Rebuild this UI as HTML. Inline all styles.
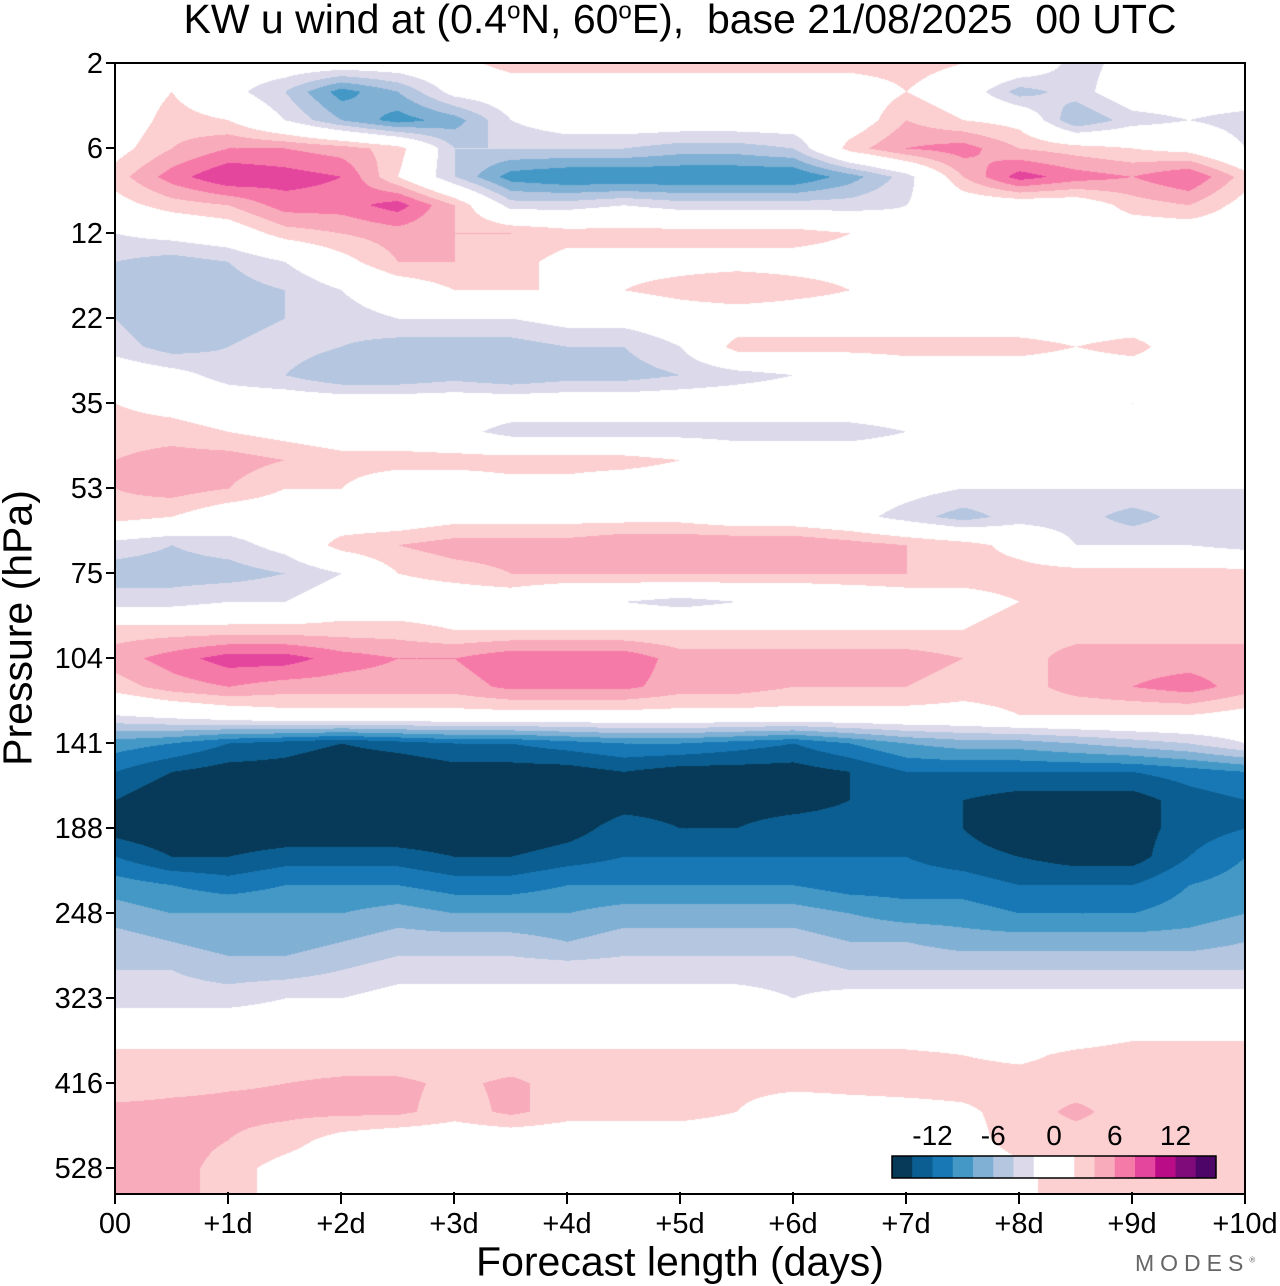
<!DOCTYPE html>
<html><head><meta charset="utf-8"><style>
body{margin:0;background:#fff;width:1280px;height:1286px;overflow:hidden;font-family:"Liberation Sans",Arial,sans-serif;}
#root{position:relative;width:1280px;height:1286px;}
.t{position:absolute;white-space:nowrap;color:#000;}
</style></head><body>
<div id="root">
<div class="t" style="left:0;width:1360px;text-align:center;top:-4px;font-size:41px;">KW u wind at (0.4<sup style="font-size:24px">o</sup>N, 60<sup style="font-size:24px">o</sup>E),&nbsp; base 21/08/2025&nbsp; 00 UTC</div>
<canvas id="cv" width="1130" height="1131" style="position:absolute;left:115px;top:63px;"></canvas>
<svg id="ax" width="1280" height="1286" style="position:absolute;left:0;top:0;"></svg>
<div class="t" style="left:18px;top:628px;font-size:41px;transform:translate(-50%,-50%) rotate(-90deg);">Pressure (hPa)</div>
<div class="t" style="left:680px;top:1262px;font-size:41px;transform:translate(-50%,-50%);">Forecast length (days)</div>
<div class="t" style="left:1135px;top:1250px;font-size:23px;color:#666;letter-spacing:6px;">MODES<sup style="font-size:8px">®</sup></div>
</div>
<script>
const levels=[-16,-14,-12,-10,-8,-6,-4,-2,0,2,4,6,8,10,12,14];
const colors=["#073a58","#0b5e91","#1778b5","#4498c6","#80b0d4","#b5c6e0","#dcdaea","#ffffff","#ffffff","#fcd0d0","#f8abbb","#f67aa8","#e4469e","#b90c86","#7e0b79","#4d0568"];
const xTicks=["00","+1d","+2d","+3d","+4d","+5d","+6d","+7d","+8d","+9d","+10d"];
const yTicks=["2","6","12","22","35","53","75","104","141","188","248","323","416","528"];
const days=[0,0.5,1,1.5,2,2.5,3,3.5,4,4.5,5,5.5,6,6.5,7,7.5,8,8.5,9,9.5,10];
const rowLevel=[0,1,2,3,4,5,6,7,8,9,10,11,12,13,14,15,16,17,18,19,20,21,22,23,24,25,26,27,28,29,30,31,32,33,34,35,36,37,38,39,40];
const u=[
[0,2,0,0,0,0,1,3,3,3,3,3,3,3,3,2,1,-3,-1,-2,-2],
[0,2,-1,-4,-9,-6,-1,0,0,0,0,0,0,0,2,0,-5,-3,0,0,0],
[0,3,2,-2,-6,-9,-7,-2,0,0,0,0,0,0,4,2,1,-6,-3,-2,-3],
[1,4,6,6,5,3,-4,-4,-4,-4,-5,-5,-4,3,6,7,4,3,2,1,-2],
[3,7,10,9,8,2,-4,-9,-10,-10,-10,-10,-10,-7,-3,4,9,7,6,8,3],
[1,3,4,7,7,9,4,-3,-3,-2,-3,-3,-3,-3,-2,0,0,0,3,4,1],
[-2,-1,0,3,4,5,4,4,3,3,3,3,3,2,-1,0,0,0,0,0,0],
[-4,-5,-4,-2,1,4,4,3,1,1,1,1,1,1,1,1,0,1,0,1,0],
[-5,-6,-5,-4,-2,0,2,2,2,2,3,4,3,2,2,2,2,2,1,0,0],
[-4,-6,-5,-4,-3,-2,-2,-2,-1,-1,0,0,0,0,0,0,0,0,0,0,0],
[-3,-5,-4,-3,-4,-5,-5,-5,-4,-4,-2,3,3,3,3,3,3,2,3,0,0],
[0,-1,-3,-4,-6,-6,-5,-6,-5,-5,-4,-3,-2,-2,0,0,0,0,0,0,0],
[2,1,0,0,0,0,0,0,0,0,0,0,0,0,0,0,0,0,2,0,2],
[3,3,2,1,0,0,-1,-3,-3,-3,-3,-3,-3,-3,-2,-2,0,-1,0,0,0],
[4,5,5,4,3,3,3,3,3,3,2,0,0,0,0,0,0,0,0,0,0],
[4,5,4,2,2,0,0,1,1,0,0,0,0,0,-1,-2,-2,-2,-2,-2,-2],
[3,2,0,0,0,0,1,1,1,1,1,0,0,-1,-3,-5,-3,-3,-5,-3,-3],
[-3,-4,-3,-1,3,4,5,5,5,6,6,6,6,5,4,3,1,-2,-2,-2,-3],
[-5,-5,-5,-4,-2,2,3,4,4,4,4,4,4,4,4,3,3,3,3,3,3],
[-3,-3,-2,-2,0,0,0,0,-2,-2,-3,-2,-2,-1,0,1,2,3,3,3,3],
[3,3,3,3,3,3,2,2,2,2,2,2,2,2,2,2,3,3,3,3,3],
[5,7,9,9,7,6,6,7.5,7.5,7.5,5,5,5,5,5,4,3,5,5,5,5],
[3,5,6,5,5,5,5,6.5,6.5,6.5,5,5,4,4,4,3,3,5,6,7,5],
[-2,-1,0,1,1,1,1,1,1,1,1,1,1,1,1,1,2,2,2,2,1],
[-9,-10,-12,-13,-14,-13,-12,-12,-11,-10,-10,-11,-12,-10,-8,-7,-7,-6,-5,-4,-2],
[-12,-14,-15,-15,-16,-16,-15,-15,-15,-14,-15,-15,-15,-14,-12,-12,-12,-12,-12,-11,-10],
[-14,-16,-16,-16,-16,-16,-16,-16,-16,-15,-15,-15,-15,-14,-13,-14,-15,-15,-15,-13,-12],
[-15,-16,-16,-16,-16,-16,-16,-16,-15,-13,-14,-14,-13,-13,-13,-14,-16,-16,-15,-13,-12],
[-12,-14,-14,-13,-13,-13,-14,-14,-13,-12,-12,-12,-12,-12,-12,-13,-14,-15,-15,-12,-10],
[-9,-10,-11,-10,-10,-10,-11,-11,-10,-10,-10,-10,-10,-11,-11,-11,-12,-12,-12,-10,-9],
[-7,-8,-8,-8,-8,-7,-8,-8,-8,-7,-7,-7,-7,-8,-9,-9,-10,-10,-10,-9,-8],
[-5,-6,-7,-7,-6,-5,-5,-5,-6,-5,-5,-5,-5,-6,-6,-7,-7,-7,-7,-7,-6],
[-4,-4,-5,-5,-4,-3,-3,-3,-3,-3,-3,-3,-3,-4,-4,-4,-4,-4,-4,-4,-4],
[-3,-3,-3,-2,-2,-1,-1,-1,-1,-1,-1,-1,-2,-1,-1,-1,-1,-1,-1,-1,-1],
[0,0,0,0,0,0,0,0,0,0,0,0,0,0,0,0,0,0,1,1,1],
[2.5,2.5,2.5,2.5,2.5,2.5,2.5,2.5,2.5,2.5,2.5,2.5,2.5,2.5,2.5,2,1.5,2.5,3,3,3],
[3,3.5,3.8,4,4.5,4.5,3.5,4.5,3,3,3,3,3,3,3,3,3,3,3,3,3],
[4.5,4.5,4.5,4.5,4.5,4.5,3,4.5,3,3,3,2,-0.5,0.5,1,1.5,3,4.5,3,3,3],
[5,5,4,3,1,0,0,0,0,0,0,0,0,0,0,1,3,3,3,3,3],
[5,5,3,1,0,0,0,0,0,0,0,0,0,0,0,0,1.5,3,3,3,3],
[5,5,3,1,0,0,0,0,0,0,0,0,0,0,0,0,1.5,3,3,3,3]
];
const X0=115,X1=1245,Y0=63,RS=85/3;
function xScale(d){return X0+(X1-X0)*d/10;}
function yScale(r){return Y0+r*RS;}
function hex(c){return [parseInt(c.substr(1,2),16),parseInt(c.substr(3,2),16),parseInt(c.substr(5,2),16)];}
const rgb=colors.map(hex);
function colorIdx(v){let k=0;for(let i=0;i<levels.length;i++){if(v>=levels[i])k=i;}return k;}
(function(){
 const cv=document.getElementById('cv'),ctx=cv.getContext('2d');
 const W=cv.width,H=cv.height,img=ctx.createImageData(W,H);
 const nr=u.length,nc=days.length;
 for(let py=0;py<H;py++){
  const yy=py+Y0;
  let fr=0;
  for(let r=0;r<nr-1;r++){if(yy>=yScale(rowLevel[r]))fr=r;}
  const ya=yScale(rowLevel[fr]),yb=yScale(rowLevel[fr+1]);
  let ty=Math.min(1,Math.max(0,(yy-ya)/(yb-ya)));
  for(let px=0;px<W;px++){
   const xx=px+X0;
   let fc=0;
   for(let c=0;c<nc-1;c++){if(xx>=xScale(days[c]))fc=c;}
   const xa=xScale(days[fc]),xb=xScale(days[fc+1]);
   const tx=Math.min(1,Math.max(0,(xx-xa)/(xb-xa)));
   const v=(u[fr][fc]*(1-tx)+u[fr][fc+1]*tx)*(1-ty)+(u[fr+1][fc]*(1-tx)+u[fr+1][fc+1]*tx)*ty;
   const c=rgb[colorIdx(v)],o=(py*W+px)*4;
   img.data[o]=c[0];img.data[o+1]=c[1];img.data[o+2]=c[2];img.data[o+3]=255;
  }
 }
 ctx.putImageData(img,0,0);
 const ns="http://www.w3.org/2000/svg",svg=document.getElementById('ax');
 function mk(tag,at,par){const e=document.createElementNS(ns,tag);for(const k in at)e.setAttribute(k,at[k]);(par||svg).appendChild(e);return e;}
 const fr2=mk('rect',{x:X0,y:Y0,width:X1-X0,height:1194-Y0,fill:'none',stroke:'#000','stroke-width':2});
 
 
 yTicks.forEach((lab,i)=>{
  const y=yScale(i*3);
  const tk=mk('line',{x1:106,x2:116,y1:y,y2:y,stroke:'#000','stroke-width':2});
  
  
  const t=mk('text',{x:103,y:y+10,'text-anchor':'end','font-size':29,'font-family':'Liberation Sans, sans-serif'});
  t.textContent=lab;
  
  
 });
 xTicks.forEach((lab,i)=>{
  const x=xScale(i);
  const tk=mk('line',{x1:x,x2:x,y1:1192,y2:1204,stroke:'#000','stroke-width':2});
  
  
  const t=mk('text',{x:x,y:1233,'text-anchor':'middle','font-size':29,'font-family':'Liberation Sans, sans-serif'});
  t.textContent=lab;
  
  
 });
 const g=mk('g',{});
 
 
 const bw=324/16;
 colors.forEach((c,i)=>{
  const r=mk('rect',{x:892+i*bw,y:1156,width:bw+0.5,height:22,fill:c},g);
  
  
 });
 mk('rect',{x:892,y:1156,width:324,height:22,fill:'none',stroke:'#000','stroke-width':1.5},g);
 [-12,-6,0,6,12].forEach(v=>{
  const t=mk('text',{x:892+(v+16)/2*bw,y:1145,'text-anchor':'middle','font-size':28,'font-family':'Liberation Sans, sans-serif'},g);
  t.textContent=v;
  
  
 });
})();
</script>
</body></html>
